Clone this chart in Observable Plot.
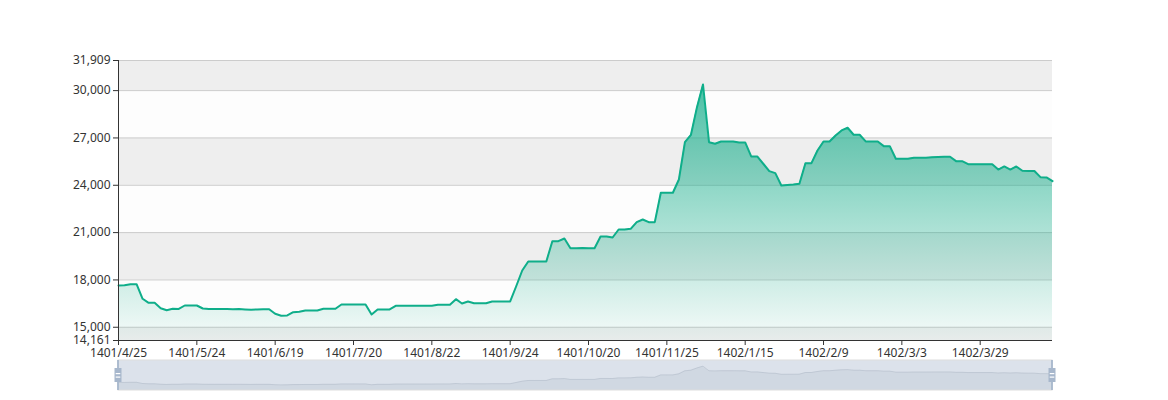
<!DOCTYPE html>
<html><head><meta charset="utf-8">
<script src="https://cdn.jsdelivr.net/npm/d3@7"></script>
<script src="https://cdn.jsdelivr.net/npm/@observablehq/plot@0.6"></script>
<style>
body{margin:0;background:#fff}
#chart svg{display:block}
</style>
</head><body><div id="chart"></div>
<script>
// ---- data ----
const xLabels = ["1401/4/25","1401/5/24","1401/6/19","1401/7/20","1401/8/22","1401/9/24",
  "1401/10/20","1401/11/25","1402/1/15","1402/2/9","1402/3/3","1402/3/29"];
const labelEvery = 13;
const values = [
  17648,17660,17731,17731,16805,16551,16551,16209,16082,16170,
  16160,16380,16380,16380,16190,16160,16150,16150,16150,16145,
  16150,16130,16110,16130,16140,16145,15854,15734,15746,15955,
  15980,16063,16063,16063,16170,16170,16170,16443,16450,16443,
  16443,16443,15809,16126,16126,16130,16361,16361,16361,16361,
  16361,16361,16361,16424,16424,16424,16780,16507,16634,16526,
  16526,16526,16634,16634,16634,16634,17600,18599,19169,19169,
  19169,19169,20457,20457,20628,20013,20013,20030,20013,20013,
  20755,20755,20691,21198,21198,21240,21662,21833,21662,21662,
  23525,23525,23525,24367,26733,27202,28952,30389,26733,26632,
  26778,26778,26778,26714,26714,25827,25827,25364,24895,24768,
  23988,24020,24050,24096,25402,25402,26207,26778,26778,27158,
  27475,27645,27202,27202,26778,26778,26778,26480,26480,25681,
  25681,25681,25744,25744,25744,25770,25790,25808,25808,25530,
  25530,25339,25339,25339,25339,25339,24997,25193,24997,25193,
  24920,24910,24900,24514,24500,24260
];
const yTicks = [14161,15000,18000,21000,24000,27000,30000,31909];

// ---- derived ----
const n = values.length;
const yMin = yTicks[0], yMax = yTicks[yTicks.length-1];
const data = values.map((v,i)=>({i, v}));
const bands = yTicks.slice(0,-1).map((t,k)=>({y1:t, y2:yTicks[k+1], k}));
const xTickIdx = xLabels.map((_,k)=>k*labelEvery);
const green = "#0fae8a";
const font = '"Noto Sans", "Open Sans", sans-serif';

const gradientDefs = () => {
  const defs = d3.create("svg:defs");
  const g = defs.append("linearGradient").attr("id","areaGrad")
    .attr("x1",0).attr("y1",0).attr("x2",0).attr("y2",1);
  g.append("stop").attr("offset","0%").attr("stop-color","rgb(16,172,136)").attr("stop-opacity",0.75);
  g.append("stop").attr("offset","100%").attr("stop-color","rgb(16,172,136)").attr("stop-opacity",0.03);
  return defs.node();
};

const main = Plot.plot({
  width:1168, height:360,
  marginLeft:118, marginRight:116, marginTop:60, marginBottom:20,
  style:{fontFamily:font, fontSize:"12px", color:"#333", background:"#fff", overflow:"visible"},
  x:{domain:[0,n-1], ticks:xTickIdx, tickFormat:i=>xLabels[Math.round(i/labelEvery)], tickSize:5, tickPadding:3, label:null},
  y:{domain:[yMin,yMax], ticks:yTicks, tickFormat:d3.format(","), tickSize:5, tickPadding:3, label:null},
  marks:[
    gradientDefs,
    Plot.rect(bands,{y1:"y1", y2:"y2", fill:d=>d.k%2===0?"#eeeeee":"#fdfdfd"}),
    Plot.ruleY(yTicks,{stroke:"#cccccc"}),
    Plot.areaY(data,{x:"i", y1:yMin, y2:"v", fill:"url(#areaGrad)"}),
    Plot.lineY(data,{x:"i", y:"v", stroke:green, strokeWidth:2}),
    Plot.ruleX([0],{stroke:"#333"}),
    Plot.ruleY([yMin],{stroke:"#333"})
  ]
});

// slider (dataZoom) with data shadow
const ext = d3.extent(values);
const pad = (ext[1]-ext[0])*0.3;
const sliderOverlay = (index, scales, values_, dims) => {
  const g = d3.create("svg:g");
  const L = dims.marginLeft, R = dims.width - dims.marginRight;
  const T = dims.marginTop, B = dims.height - dims.marginBottom;
  g.append("rect").attr("x",L).attr("y",T).attr("width",R-L).attr("height",B-T)
    .attr("fill","rgba(167,183,204,0.4)").attr("stroke","#ddd");
  for (const cx of [L, R]) {
    g.append("rect").attr("x",cx-0.9).attr("y",T).attr("width",1.8).attr("height",B-T).attr("fill","#a7b7cc");
    g.append("rect").attr("x",cx-3.5).attr("y",T+8).attr("width",7).attr("height",14).attr("fill","#a7b7cc");
    g.append("rect").attr("x",cx-2.3).attr("y",T+13).attr("width",4.6).attr("height",1.2).attr("fill","#fff");
    g.append("rect").attr("x",cx-2.3).attr("y",T+16.5).attr("width",4.6).attr("height",1.2).attr("fill","#fff");
  }
  return g.node();
};

const slider = Plot.plot({
  width:1168, height:40,
  marginLeft:118, marginRight:116, marginTop:0, marginBottom:10,
  style:{background:"#fff", overflow:"visible"},
  x:{domain:[0,n-1], axis:null},
  y:{domain:[ext[0]-pad, ext[1]+pad], axis:null},
  marks:[
    Plot.areaY(data,{x:"i", y1:ext[0]-pad, y2:"v", fill:"rgb(47,69,84)", fillOpacity:0.09}),
    Plot.lineY(data,{x:"i", y:"v", stroke:"#2f4554", strokeOpacity:0.3, strokeWidth:0.5}),
    sliderOverlay
  ]
});

const root = document.getElementById("chart");
root.appendChild(main);
root.appendChild(slider);
</script>
</body></html>
